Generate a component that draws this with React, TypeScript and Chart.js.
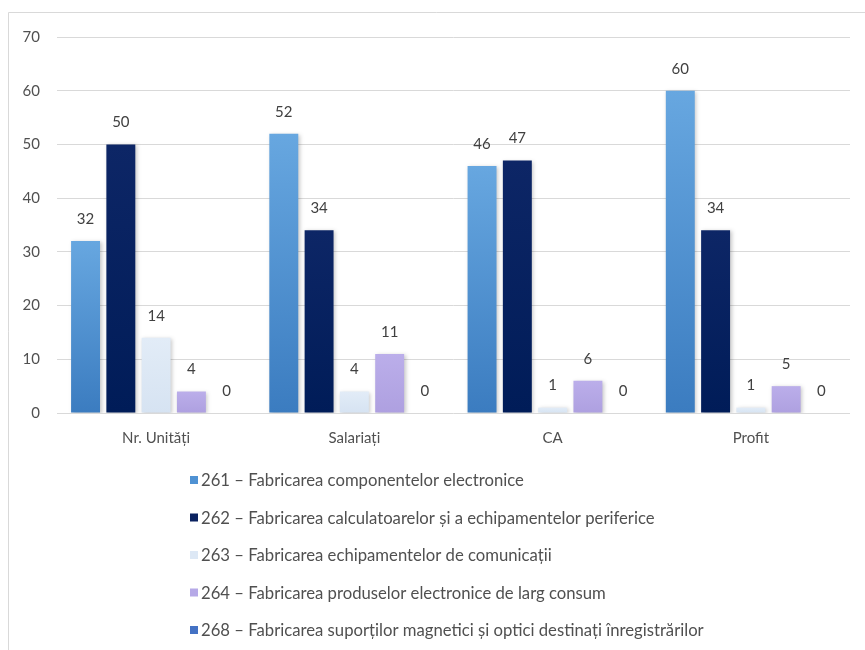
import React, { useEffect, useRef } from "react";
import { Chart, registerables } from "chart.js";

Chart.register(...registerables);

const categories = ["Nr. Unități", "Salariați", "CA", "Profit"];

const seriesNames = [
  "261 – Fabricarea componentelor electronice",
  "262 – Fabricarea calculatoarelor și a echipamentelor periferice",
  "263 – Fabricarea echipamentelor de comunicații",
  "264 – Fabricarea produselor electronice de larg consum",
  "268 – Fabricarea suporților magnetici și optici destinați înregistrărilor",
];

const values261 = [32, 52, 46, 60];
const values262 = [50, 34, 47, 34];
const values263 = [14, 4, 1, 1];
const values264 = [4, 11, 6, 5];
const values268 = [0, 0, 0, 0];

const yTicks = [0, 10, 20, 30, 40, 50, 60, 70];

// top colour, bottom colour per series
const seriesColors: [string, string][] = [
  ["#67a7e0", "#3b7cc0"],
  ["#0d2666", "#001c58"],
  ["#e2ecf7", "#d6e3f2"],
  ["#bbaeea", "#aea0e0"],
  ["#4a78c8", "#3d68b8"],
];

const legendSwatch = ["#4f92d3", "#0a2260", "#dde8f5", "#b6a9e7", "#4472c4"];

const FONT = "Lato, 'Open Sans', sans-serif";

const extraPlugin = {
  id: "extras",
  beforeDraw(chart: any) {
    const ctx = chart.ctx;
    ctx.save();
    ctx.fillStyle = "#ffffff";
    ctx.fillRect(0, 0, chart.width, chart.height);
    ctx.strokeStyle = "#d9d9d9";
    ctx.lineWidth = 1;
    ctx.beginPath();
    ctx.moveTo(8.5, chart.height);
    ctx.lineTo(8.5, 12.5);
    ctx.lineTo(chart.width, 12.5);
    ctx.stroke();
    ctx.restore();
  },
  beforeDatasetsDraw(chart: any) {
    const ctx = chart.ctx;
    ctx.save();
    ctx.shadowColor = "rgba(0,0,0,0.22)";
    ctx.shadowBlur = 4;
    ctx.shadowOffsetX = 1.5;
    ctx.shadowOffsetY = 1;
  },
  afterDatasetsDraw(chart: any) {
    const ctx = chart.ctx;
    ctx.restore();
    ctx.save();
    ctx.font = `15px ${FONT}`;
    ctx.fillStyle = "#404040";
    ctx.textAlign = "center";
    ctx.textBaseline = "middle";
    chart.data.datasets.forEach((ds: any, i: number) => {
      const meta = chart.getDatasetMeta(i);
      meta.data.forEach((bar: any, j: number) => {
        ctx.fillText(String(ds.data[j]), bar.x, bar.y - 22);
      });
    });
    ctx.restore();
  },
  afterDraw(chart: any) {
    const ctx = chart.ctx;
    ctx.save();
    ctx.font = `16.7px ${FONT}`;
    ctx.textAlign = "left";
    ctx.textBaseline = "middle";
    chart.data.datasets.forEach((ds: any, i: number) => {
      const y = 480 + i * 37.5;
      ctx.fillStyle = legendSwatch[i];
      ctx.fillRect(190, y - 4, 8, 8);
      ctx.fillStyle = "#505050";
      ctx.fillText(ds.label, 201, y + 1);
    });
    ctx.restore();
  },
};

function makeFill(index: number) {
  return (context: any) => {
    const chart = context.chart;
    const yScale = chart.scales?.y;
    const area = chart.chartArea;
    if (!yScale || !area) return seriesColors[index][0];
    const v = context.raw ?? 0;
    const top = yScale.getPixelForValue(v);
    const bottom = yScale.getPixelForValue(0);
    if (bottom - top < 1) return seriesColors[index][0];
    const g = chart.ctx.createLinearGradient(0, top, 0, bottom);
    g.addColorStop(0, seriesColors[index][0]);
    g.addColorStop(1, seriesColors[index][1]);
    return g;
  };
}

export default function App() {
  const canvasRef = useRef<HTMLCanvasElement | null>(null);

  useEffect(() => {
    if (!canvasRef.current) return;
    const allValues = [values261, values262, values263, values264, values268];
    const chart = new Chart(canvasRef.current, {
      type: "bar",
      data: {
        labels: categories,
        datasets: allValues.map((vals, i) => ({
          label: seriesNames[i],
          data: vals,
          backgroundColor: makeFill(i),
          borderWidth: 0,
          barPercentage: 0.82,
          categoryPercentage: 0.89,
        })),
      },
      options: {
        responsive: false,
        animation: false,
        devicePixelRatio: 1,
        layout: { padding: { left: 0, right: 15, top: 37, bottom: 187 } },
        plugins: {
          legend: { display: false },
          tooltip: { enabled: false },
          title: { display: false },
        },
        scales: {
          x: {
            grid: { display: false, drawTicks: false },
            border: { display: false },
            ticks: {
              color: "#505050",
              font: { family: FONT, size: 15 },
              padding: 16,
            },
            afterFit: (scale: any) => {
              scale.height = 50;
            },
          },
          y: {
            min: 0,
            max: 70,
            afterBuildTicks: (scale: any) => {
              scale.ticks = yTicks.map((v) => ({ value: v }));
            },
            grid: { color: "#d9d9d9", drawTicks: false, lineWidth: 1 },
            border: { display: false },
            ticks: {
              color: "#505050",
              font: { family: FONT, size: 15 },
              padding: 17,
            },
            afterFit: (scale: any) => {
              scale.width = 57;
            },
          },
        },
      },
      plugins: [extraPlugin],
    });
    return () => chart.destroy();
  }, []);

  return (
    <div style={{ position: "absolute", left: 0, top: 0, width: 865, height: 650 }}>
      <canvas ref={canvasRef} width={865} height={650} style={{ display: "block" }} />
    </div>
  );
}
